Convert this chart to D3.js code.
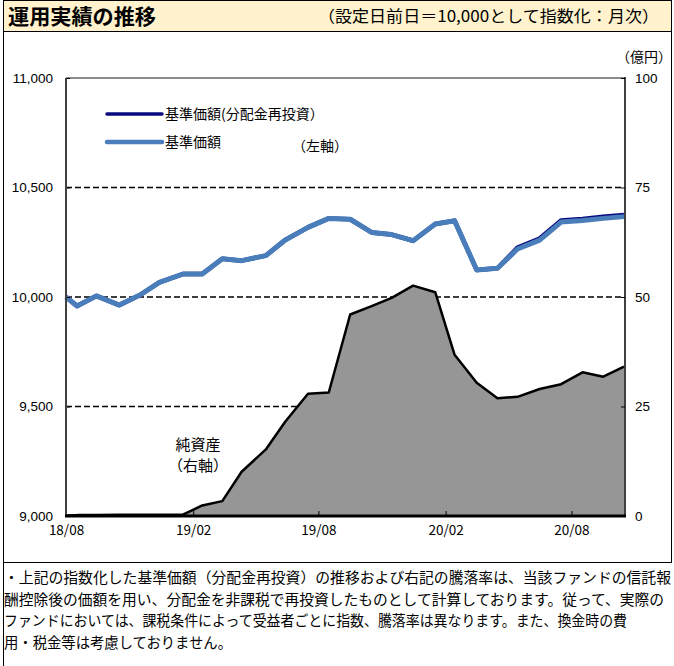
<!DOCTYPE html>
<html>
<head>
<meta charset="utf-8">
<script src="https://cdn.jsdelivr.net/npm/d3@7"></script>
<style>
  body { margin: 0; background: #fff; }
  svg { display: block; }
  .jp { font-family: "Noto Sans CJK JP", "Noto Sans", sans-serif; }
  .num { font-family: "Liberation Sans", Arial, sans-serif; }
</style>
</head>
<body>
<svg width="674" height="666"></svg>
<script>
// month-end dates (first one is the day before launch)
var dates = ["2018-08-15","2018-08-31","2018-09-28","2018-10-31","2018-11-30","2018-12-28",
  "2019-01-31","2019-02-28","2019-03-29","2019-04-26","2019-05-31","2019-06-28","2019-07-31",
  "2019-08-30","2019-09-30","2019-10-31","2019-11-29","2019-12-30","2020-01-31","2020-02-28",
  "2020-03-31","2020-04-30","2020-05-29","2020-06-30","2020-07-31","2020-08-31","2020-09-30","2020-10-30"];

// 基準価額 (indexed)
var navIndex = [10000, 9959, 10005, 9963, 10009, 10067, 10105, 10105, 10175, 10166, 10189, 10260, 10318,
  10359, 10355, 10295, 10285, 10257, 10333, 10348, 10123, 10131, 10219, 10260, 10342, 10349, 10359, 10367];

// 基準価額(分配金再投資)
var navReinvest = [10000, 9959, 10005, 9963, 10009, 10067, 10105, 10105, 10175, 10166, 10189, 10260, 10318,
  10359, 10355, 10295, 10285, 10257, 10333, 10348, 10123, 10131, 10226, 10267, 10349, 10356, 10366, 10374];

// 純資産 (億円)
var netAssets = [0.1, 0.2, 0.2, 0.3, 0.3, 0.3, 0.3, 2.4, 3.4, 10.1, 15.2, 21.5, 27.9,
  28.2, 46.0, 47.9, 49.8, 52.6, 51.1, 36.8, 30.4, 26.9, 27.2, 29.0, 30.1, 32.8, 31.8, 34.1];

var tickDates = ["2018-08-15","2019-02-15","2019-08-15","2020-02-15","2020-08-15"];
var tickLabels = ["18/08","19/02","19/08","20/02","20/08"];
var leftTicks = [9000, 9500, 10000, 10500, 11000];
var rightTicks = [0, 25, 50, 75, 100];
var gridValues = [9500, 10000, 10500];

var notes = [
  "・上記の指数化した基準価額（分配金再投資）の推移および右記の騰落率は、当該ファンドの信託報",
  "酬控除後の価額を用い、分配金を非課税で再投資したものとして計算しております。従って、実際の",
  "ファンドにおいては、課税条件によって受益者ごとに指数、騰落率は異なります。また、換金時の費",
  "用・税金等は考慮しておりません。"
];
var noteWidths = [667, 660, 623, 228];

var parse = d3.timeParse("%Y-%m-%d");
var data = dates.map(function(d, i) {
  return { date: parse(d), nav: navIndex[i], re: navReinvest[i], assets: netAssets[i] };
});

var svg = d3.select("svg");

// frame + title bar
svg.append("rect").attr("x", 3.5).attr("y", 0.5).attr("width", 668).attr("height", 31)
  .attr("fill", "#fff2cc").attr("stroke", "#000");
svg.append("rect").attr("x", 3.5).attr("y", 31.5).attr("width", 668).attr("height", 531)
  .attr("fill", "none").attr("stroke", "#000");
svg.append("line").attr("x1", 3.5).attr("x2", 3.5).attr("y1", 562).attr("y2", 666).attr("stroke", "#000");

svg.append("text").attr("class", "jp").attr("x", 8).attr("y", 24)
  .attr("font-size", 21).attr("font-weight", "bold")
  .attr("textLength", 148).attr("lengthAdjust", "spacingAndGlyphs")
  .text("運用実績の推移");
svg.append("text").attr("class", "jp").attr("x", 318).attr("y", 22)
  .attr("font-size", 16)
  .attr("textLength", 341).attr("lengthAdjust", "spacingAndGlyphs")
  .text("（設定日前日＝10,000として指数化：月次）");

// scales
var x = d3.scaleTime().domain([parse(dates[0]), parse(dates[dates.length - 1])]).range([66, 624]);
var yL = d3.scaleLinear().domain([9000, 11000]).range([516, 78]);
var yR = d3.scaleLinear().domain([0, 100]).range([516, 78]);

// grid
svg.append("g").selectAll("line").data(gridValues).join("line")
  .attr("x1", 66).attr("x2", 624)
  .attr("y1", function(d) { return yL(d); }).attr("y2", function(d) { return yL(d); })
  .attr("stroke", "#000").attr("stroke-width", 1.3).attr("stroke-dasharray", "6,3");
svg.append("line").attr("x1", 66).attr("x2", 624).attr("y1", yL(11000)).attr("y2", yL(11000))
  .attr("stroke", "#8c8c8c").attr("stroke-width", 2);

// net assets area
var assetArea = d3.area().x(function(d) { return x(d.date); }).y0(yR(0)).y1(function(d) { return yR(d.assets); });
var assetLine = d3.line().x(function(d) { return x(d.date); }).y(function(d) { return yR(d.assets); });
svg.append("path").datum(data).attr("d", assetArea).attr("fill", "#969696");
svg.append("path").datum(data).attr("d", assetLine).attr("fill", "none")
  .attr("stroke", "#000").attr("stroke-width", 2.5).attr("stroke-linejoin", "round");

// nav lines
var lineRe = d3.line().x(function(d) { return x(d.date); }).y(function(d) { return yL(d.re); });
var lineNav = d3.line().x(function(d) { return x(d.date); }).y(function(d) { return yL(d.nav); });
svg.append("path").datum(data).attr("d", lineRe).attr("fill", "none")
  .attr("stroke", "#0a0a80").attr("stroke-width", 4.5).attr("stroke-linejoin", "round");
svg.append("path").datum(data).attr("d", lineNav).attr("fill", "none")
  .attr("stroke", "#4a7ebb").attr("stroke-width", 5).attr("stroke-linejoin", "round");

// axes
var axL = svg.append("g").attr("class", "num").attr("transform", "translate(66,0)")
  .call(d3.axisLeft(yL).tickValues(leftTicks).tickSize(-4).tickPadding(13).tickFormat(d3.format(",")));
var axR = svg.append("g").attr("class", "num").attr("transform", "translate(625,0)")
  .call(d3.axisRight(yR).tickValues(rightTicks).tickSize(-4).tickPadding(10));
var axB = svg.append("g").attr("class", "jp").attr("transform", "translate(0,516)")
  .call(d3.axisBottom(x).tickValues(tickDates.map(parse)).tickSize(-5).tickPadding(9)
    .tickFormat(function(d, i) { return tickLabels[i]; }));
[axL, axR, axB].forEach(function(g) {
  g.select(".domain").remove();
  g.selectAll("text").attr("font-size", 13.5).attr("fill", "#000");
  g.selectAll(".tick line").attr("stroke", "#000");
});
axL.selectAll(".tick text").attr("font-family", "Liberation Sans, Arial, sans-serif");

svg.append("line").attr("x1", 66).attr("x2", 66).attr("y1", 78).attr("y2", 517)
  .attr("stroke", "#404040").attr("stroke-width", 2);
svg.append("line").attr("x1", 625).attr("x2", 625).attr("y1", 77).attr("y2", 517)
  .attr("stroke", "#000").attr("stroke-width", 1.5);
svg.append("line").attr("x1", 65).attr("x2", 626).attr("y1", 516).attr("y2", 516)
  .attr("stroke", "#000").attr("stroke-width", 3);

svg.append("text").attr("class", "jp").attr("x", 616).attr("y", 62).attr("font-size", 14)
  .text("（億円）");

// legend
var legend = [
  { label: "基準価額(分配金再投資）", color: "#0a0a80", w: 3.5, y: 114 },
  { label: "基準価額", color: "#4a7ebb", w: 4.5, y: 142 }
];
var lg = svg.append("g").selectAll("g").data(legend).join("g");
lg.append("line").attr("x1", 107).attr("x2", 162)
  .attr("y1", function(d) { return d.y; }).attr("y2", function(d) { return d.y; })
  .attr("stroke", function(d) { return d.color; }).attr("stroke-width", function(d) { return d.w; })
  .attr("stroke-linecap", "round");
lg.append("text").attr("class", "jp").attr("x", 165).attr("y", function(d) { return d.y + 5; })
  .attr("font-size", 14).text(function(d) { return d.label; });
svg.append("text").attr("class", "jp").attr("x", 292).attr("y", 151).attr("font-size", 14)
  .text("（左軸）");

svg.append("text").attr("class", "jp").attr("x", 198).attr("y", 450).attr("font-size", 15)
  .attr("text-anchor", "middle").text("純資産");
svg.append("text").attr("class", "jp").attr("x", 198).attr("y", 471).attr("font-size", 15)
  .attr("text-anchor", "middle").text("（右軸）");

// notes
svg.append("g").selectAll("text").data(notes).join("text")
  .attr("class", "jp").attr("x", 4).attr("y", function(d, i) { return 583 + i * 21.7; })
  .attr("font-size", 14.5)
  .attr("textLength", function(d, i) { return noteWidths[i]; })
  .attr("lengthAdjust", "spacingAndGlyphs")
  .text(function(d) { return d; });
</script>
</body>
</html>
